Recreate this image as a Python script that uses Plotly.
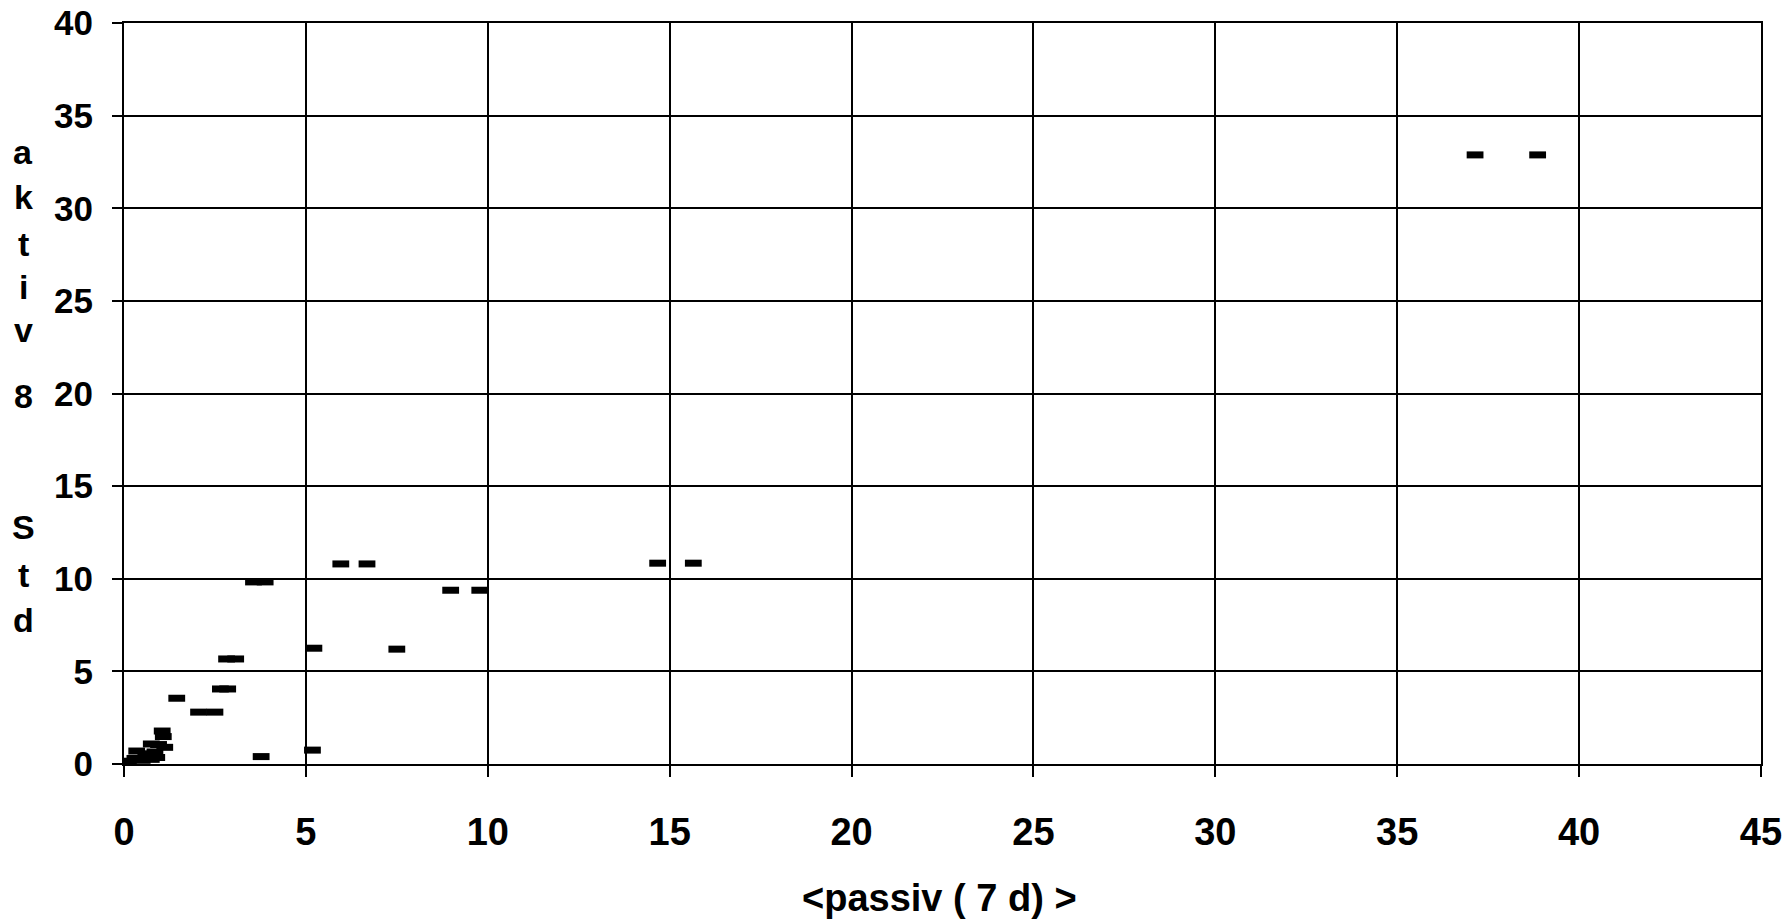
import plotly.graph_objects as go

# passive (7 d) values and active (Std) values
passiv = [
    0.12, 0.30, 0.50, 0.75, 0.90, 0.35, 0.60, 0.85, 0.75, 0.95, 1.12, 1.05, 1.08,
    1.45, 2.05, 2.50, 2.65, 2.85, 2.82, 3.07, 3.56, 3.88, 3.77,
    5.18, 5.22, 7.50, 5.96, 6.68, 8.98, 9.78, 14.67, 15.65, 37.14, 38.86,
]
aktiv = [
    0.15, 0.30, 0.20, 0.25, 0.35, 0.70, 0.55, 0.65, 1.08, 1.05, 0.90, 1.78, 1.48,
    3.55, 2.80, 2.80, 4.05, 4.05, 5.67, 5.67, 9.83, 9.83, 0.40,
    0.75, 6.25, 6.20, 10.80, 10.80, 9.38, 9.38, 10.84, 10.84, 32.88, 32.88,
]

x_ticks = [0, 5, 10, 15, 20, 25, 30, 35, 40, 45]
y_ticks = [0, 5, 10, 15, 20, 25, 30, 35, 40]
x_title = "&lt;passiv ( 7 d) &gt;"
y_title_chars = ["a", "k", "t", "i", "v", "8", "S", "t", "d"]
y_title_pix = [152, 197, 244, 287, 330, 396, 527, 575, 620]  # pixel centers (layout)

W, H = 1789, 920
ML, MR, MT, MB = 124, 28, 23, 156
plot_h = H - MT - MB
plot_w = W - ML - MR

FONT = "Liberation Sans, Arial, sans-serif"

fig = go.Figure()
fig.add_trace(go.Scatter(
    x=passiv, y=aktiv, mode="markers",
    marker=dict(symbol="line-ew", size=12, color="black",
                line=dict(width=7, color="black")),
    showlegend=False, hoverinfo="x+y",
))

annotations = []
for ch, py in zip(y_title_chars, y_title_pix):
    annotations.append(dict(
        text=ch, xref="paper", yref="paper",
        x=(23 - ML) / plot_w, y=(H - MB - py) / plot_h,
        xanchor="center", yanchor="middle", showarrow=False,
        font=dict(family=FONT, size=34, color="black", weight="bold"),
    ))
annotations.append(dict(
    text=x_title, xref="paper", yref="paper",
    x=(939 - ML) / plot_w, y=(H - MB - 898) / plot_h,
    xanchor="center", yanchor="middle", showarrow=False,
    font=dict(family=FONT, size=38, color="black", weight="bold"),
))

axis_common = dict(
    showgrid=True, gridcolor="black", gridwidth=2,
    showline=True, linecolor="black", linewidth=2, mirror=True,
    zeroline=False, ticks="outside", tickcolor="black", tickwidth=2,
    automargin=False,
)

fig.update_layout(
    width=W, height=H,
    margin=dict(l=ML, r=MR, t=MT, b=MB, pad=0, autoexpand=False),
    paper_bgcolor="white", plot_bgcolor="white",
    xaxis=dict(range=[0, 45], tickvals=x_ticks, ticktext=[str(v) for v in x_ticks],
               ticklen=11, ticklabelstandoff=22,
               tickfont=dict(family=FONT, size=38, color="black", weight="bold"),
               **axis_common),
    yaxis=dict(range=[0, 40], tickvals=y_ticks, ticktext=[str(v) for v in y_ticks],
               ticklen=10, ticklabelstandoff=12,
               tickfont=dict(family=FONT, size=35, color="black", weight="bold"),
               **axis_common),
    annotations=annotations,
)

fig.write_html("out.html", config={"displayModeBar": False},
               post_script="document.body.style.margin='0';")
